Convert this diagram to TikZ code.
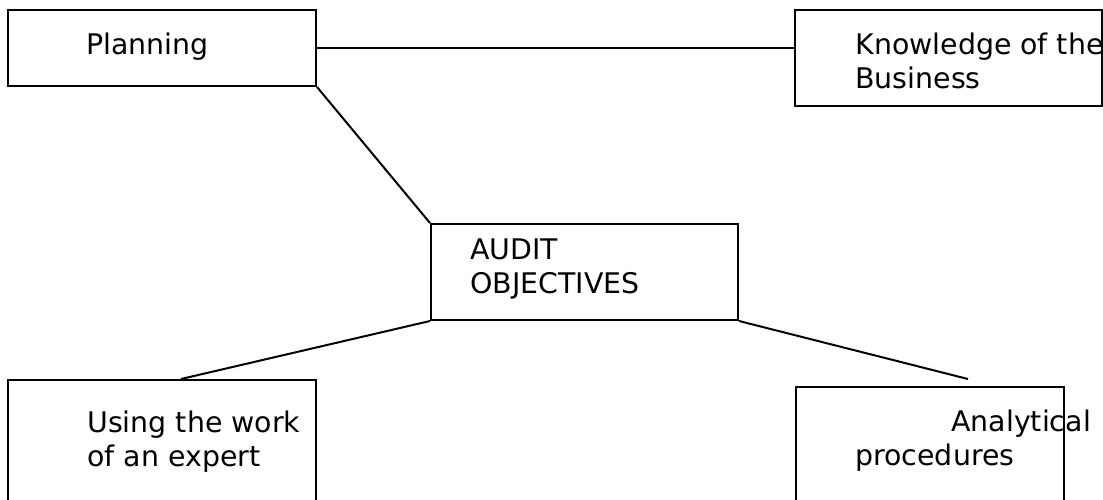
\documentclass[tikz,border=0pt]{standalone}
\usepackage{fontspec}
\setmainfont{DejaVu Sans}
\usetikzlibrary{calc}

\begin{document}
\begin{tikzpicture}[x=.5pt, y=-.5pt, box/.style={draw,rectangle,line width=1pt,inner sep=0pt}, lbl/.style={anchor=base west,align=left,inner sep=0pt,font=\fontsize{14.2}{17}\selectfont}, link/.style={line width=1pt}]
  \useasboundingbox (0,0) rectangle (1103,499);
  \clip (0,0) rectangle (1103,499);
  % boxes
  \node[box,minimum width=154pt,minimum height=38pt] (plan) at (162,48) {};
  \node[box,minimum width=153.5pt,minimum height=48pt] (know) at (948.5,58) {};
  \node[box,minimum width=153.5pt,minimum height=48pt] (audit) at (584.5,272) {};
  \node[box,minimum width=154pt,minimum height=80pt] (expert) at (162,460) {};
  \node[box,minimum width=134pt,minimum height=76.5pt] (anal) at (930,463.5) {};
  % labels (base = last line)
  \node[lbl] (planT) at (86,54) {Planning};
  \node[lbl] (knowT) at (855,88) {Knowledge of the\\Business};
  \node[lbl] (auditT) at (470,293) {AUDIT\\OBJECTIVES};
  \node[lbl] (expertT) at (87,466) {Using the work\\of an expert};
  \node[lbl] (analT) at (855,465) {\hspace*{48pt}Analytical\\procedures};
  % links
  \coordinate (analtip) at (968,379);
  \draw[link] (plan.east) -- (plan.east -| know.west);
  \draw[link] (plan.south east) -- (audit.north west);
  \draw[link] (audit.south west) -- ([xshift=87pt]expert.north west);
  \draw[link] (audit.south east) -- (analtip);
\end{tikzpicture}
\end{document}
